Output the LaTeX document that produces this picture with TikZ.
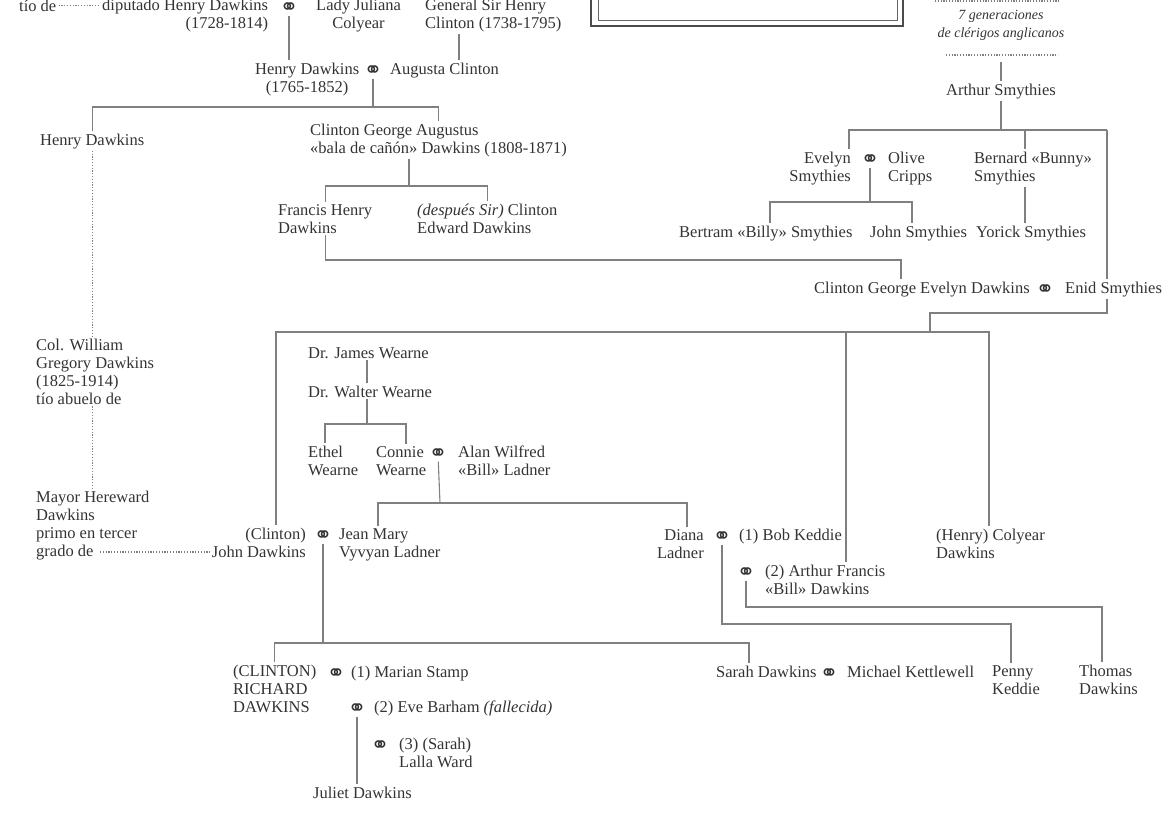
\documentclass[tikz,border=0pt]{standalone}
\usepackage{fontspec}
\setmainfont{Liberation Serif}
\newfontfamily\wedfont{DejaVu Sans}
\newcommand{\marr}{⚭}

\begin{document}
\begin{tikzpicture}[x=1pt,y=-1pt,
    pers/.style={inner sep=2pt,text=black!80,font=\fontsize{16.5}{18}\selectfont,align=left},
    ital/.style={inner sep=2pt,text=black!80,font=\fontsize{14}{18}\selectfont\itshape,align=center},
    wed/.style={inner sep=1pt,text=black!80,yshift=-2.5pt,font=\wedfont\fontsize{22}{22}\selectfont},
    kinline/.style={draw=black!50,line width=1.1pt},
    farline/.style={draw=black!50,line width=1.1pt,dash pattern=on 1.2pt off 1.6pt}]
    \useasboundingbox (0,0) rectangle (1175,814);
    \clip (0,0) rectangle (1175,814);

    % frame of the title, cut at the top
    \draw[line width=1.8pt,black!70] (591,-20) rectangle (903,26);
    \draw[line width=0.9pt,black!60] (598,-20) rectangle (897,20);

    % eighteenth century (base is the last line of a node)
    \node[pers,anchor=base west] (tio) at (17,11) {tío de};
    \node[pers,anchor=base west,align=right] (dip) at (100,28) {diputado Henry Dawkins\\(1728-1814)};
    \node[wed] (m1) at (289,6) {\marr};
    \node[pers,anchor=base west,align=center] (lady) at (314,28) {Lady Juliana\\Colyear};
    \node[pers,anchor=base west] (gen) at (423,28) {General Sir Henry\\Clinton (1738-1795)};
    \coordinate (g1) at (459,34);
    \draw[farline] (tio.east) -- (tio.east -| dip.west);

    \node[pers,anchor=base west,align=center] (hd) at (253,92) {Henry Dawkins\\(1765-1852)};
    \node[wed] (m2) at (373,69) {\marr};
    \node[pers,anchor=base west] (aug) at (388,74) {Augusta Clinton};
    \draw[kinline] (m1) -- (m1 |- hd.north);
    \draw[kinline] (g1) -- (g1 |- aug.north);

    % sons of Henry
    \coordinate (j1) at (373,107);
    \node[pers,anchor=base west] (hd3) at (38,145) {Henry Dawkins};
    \node[pers,anchor=base west] (cga) at (308,153) {Clinton George Augustus\\«bala de cañón» Dawkins (1808-1871)};
    \draw[kinline] (m2) -- (j1);
    \draw[kinline] (hd3.north) |- (j1) -| (cga.north);

    \coordinate (j2) at (409,186);
    \node[pers,anchor=base west] (fhd) at (276,233) {Francis Henry\\Dawkins};
    \node[pers,anchor=base west] (ced) at (415,233) {\textit{(después Sir)} Clinton\\Edward Dawkins};
    \draw[kinline] (cga.south -| j2) -- (j2);
    \draw[kinline] (fhd.north) |- (j2) -| (ced.north);

    % Smythies side
    \coordinate (t0) at (935,1);
    \coordinate (t1) at (1060,1);
    \draw[farline] (t0) -- (t1);
    \node[ital,anchor=base] (gener) at (1001,37) {7 generaciones\\de clérigos anglicanos};
    \coordinate (s0) at (946,55);
    \coordinate (s1) at (1058,55);
    \coordinate (s2) at (1001,62);
    \draw[farline] (s0) -- (s1);
    \node[pers,anchor=base] (arthur) at (1001,95) {Arthur Smythies};
    \draw[kinline] (arthur.north |- s2) -- (arthur.north);

    \coordinate (j4) at (1001,130);
    \coordinate (e1) at (849,130);
    \coordinate (b1) at (1025,130);
    \coordinate (r1) at (1107,130);
    \node[pers,anchor=base east,align=right] (evelyn) at (853,181) {Evelyn\\Smythies};
    \node[wed] (m3) at (870,158) {\marr};
    \node[pers,anchor=base west] (olive) at (886,181) {Olive\\Cripps};
    \node[pers,anchor=base west] (bern) at (972,181) {Bernard «Bunny»\\Smythies};
    \draw[kinline] (arthur.south) -- (arthur.south |- j4);
    \draw[kinline] (e1 |- evelyn.north) -- (e1) -- (r1);
    \draw[kinline] (b1) -- (b1 |- bern.north);

    \coordinate (j5) at (870,202);
    \coordinate (k1) at (770,202);
    \coordinate (k2) at (912,202);
    \node[pers,anchor=base west] (bert) at (677,237) {Bertram «Billy» Smythies};
    \node[pers,anchor=base west] (john) at (868,237) {John Smythies};
    \node[pers,anchor=base west] (yor) at (974,237) {Yorick Smythies};
    \draw[kinline] (m3) -- (j5);
    \draw[kinline] (k1 |- bert.north) -- (k1) -- (k2) -- (k2 |- john.north);
    \draw[kinline] (b1 |- bern.south) -- (b1 |- yor.north);

    % Clinton George Evelyn and Enid
    \coordinate (j3) at (901,260);
    \node[pers,anchor=base west] (cgd) at (812,293) {Clinton George Evelyn Dawkins};
    \node[wed] (m5) at (1045,288) {\marr};
    \node[pers,anchor=base west] (enid) at (1063,293) {Enid Smythies};
    \draw[kinline] (fhd.south) |- (j3) -- (j3 |- cgd.north);
    \draw[kinline] (r1) -- (r1 |- enid.north);

    \coordinate (j6) at (930,313);
    \coordinate (j7) at (930,332);
    \coordinate (c1) at (276,332);
    \coordinate (c3) at (846,332);
    \coordinate (c4) at (989,332);
    \draw[kinline] (r1 |- enid.south) |- (j6) -- (j7);

    % the far cousins
    \node[pers,anchor=base west] (col) at (34,404) {Col. William\\Gregory Dawkins\\(1825-1914)\\tío abuelo de};
    \node[pers,anchor=base west] (mayor) at (34,556) {Mayor Hereward\\Dawkins\\primo en tercer\\grado de};
    \coordinate (gd) at (100,552);
    \draw[farline] (hd3.south) -- (hd3.south |- col.north);
    \draw[farline] (hd3 |- col.south) -- (hd3 |- mayor.north);

    % Wearne and Ladner
    \coordinate (j8) at (367,424);
    \coordinate (w1) at (325,424);
    \coordinate (w2) at (406,424);
    \node[pers,anchor=base west] (james) at (306,358) {Dr. James Wearne};
    \node[pers,anchor=base west] (walter) at (306,397) {Dr. Walter Wearne};
    \draw[kinline] (j8 |- james.south) -- (j8 |- walter.north);
    \node[pers,anchor=base west] (ethel) at (306,475) {Ethel\\Wearne};
    \node[pers,anchor=base west] (connie) at (374,475) {Connie\\Wearne};
    \node[wed] (m4) at (438,452) {\marr};
    \node[pers,anchor=base west] (alan) at (456,475) {Alan Wilfred\\«Bill» Ladner};
    \draw[kinline] (walter.south -| j8) -- (j8);
    \draw[kinline] (w1 |- ethel.north) -- (w1) -- (w2) -- (w2 |- connie.north);

    % John and Jean
    \node[pers,anchor=base east,align=right] (cjd) at (308,557) {(Clinton)\\John Dawkins};
    \node[wed] (m6) at (323,534) {\marr};
    \node[pers,anchor=base west] (jean) at (337,557) {Jean Mary\\Vyvyan Ladner};
    \draw[farline] (gd) -- (gd -| cjd.west);

    \coordinate (j9) at (440,503);
    \coordinate (l1) at (378,503);
    \coordinate (l2) at (687,503);
    \node[pers,anchor=base east,align=right] (diana) at (706,558) {Diana\\Ladner};
    \node[wed] (m7) at (722,535) {\marr};
    \node[pers,anchor=base west] (bob) at (737,540) {(1) Bob Keddie};
    \node[wed] (m8) at (746,571) {\marr};
    \node[pers,anchor=base west] (artf) at (763,594) {(2) Arthur Francis\\«Bill» Dawkins};
    \node[pers,anchor=base west] (coly) at (934,558) {(Henry) Colyear\\Dawkins};
    \draw[kinline] (m4) -- (j9);
    \draw[kinline] (l1 |- jean.north) -- (l1) -- (l2) -- (l2 |- diana.north);
    \draw[kinline] (c1 |- cjd.north) -- (c1) -- (c4) -- (c4 |- coly.north);
    \draw[kinline] (c3) -- (c3 |- artf.north);

    % the Keddie and Dawkins children
    \coordinate (p1) at (1011,624);
    \coordinate (p2) at (1102,607);
    \node[pers,anchor=base west] (penny) at (990,694) {Penny\\Keddie};
    \node[pers,anchor=base west] (thomas) at (1077,694) {Thomas\\Dawkins};
    \draw[kinline] (m7) |- (p1) -- (p1 |- penny.north);
    \draw[kinline] (m8) |- (p2) -- (p2 |- thomas.north);

    % Richard and Sarah
    \coordinate (j10) at (323,643);
    \coordinate (q2) at (749,643);
    \node[pers,anchor=base west] (rich) at (231,712) {(CLINTON)\\RICHARD\\DAWKINS};
    \node[wed] (m9) at (336,672) {\marr};
    \node[pers,anchor=base west] (marian) at (349,677) {(1) Marian Stamp};
    \node[wed] (m10) at (357,707) {\marr};
    \node[pers,anchor=base west] (eve) at (372,712) {(2) Eve Barham \textit{(fallecida)}};
    \node[wed] (m11) at (380,744) {\marr};
    \node[pers,anchor=base west] (lalla) at (397,767) {(3) (Sarah)\\Lalla Ward};
    \node[pers,anchor=base west] (juliet) at (311,798) {Juliet Dawkins};
    \node[pers,anchor=base west] (sarah) at (714,677) {Sarah Dawkins};
    \node[wed] (m12) at (829,672) {\marr};
    \node[pers,anchor=base west] (mich) at (845,677) {Michael Kettlewell};
    \draw[kinline] (m6) -- (j10);
    \draw[kinline] (rich.north) |- (q2) -- (q2 |- sarah.north);
    \draw[kinline] (m10) -- (m10 |- juliet.north);
\end{tikzpicture}
\end{document}
